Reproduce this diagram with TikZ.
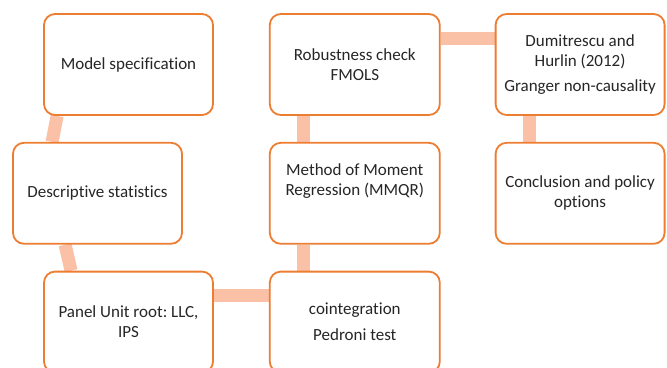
\documentclass[tikz,border=0pt]{standalone}
\usepackage{fontspec}
\setmainfont[Ligatures=NoCommon]{Carlito}
\frenchspacing
\usepackage{xcolor}
\usetikzlibrary{positioning, backgrounds}

\definecolor{boxorange}{HTML}{ED7D31}
\definecolor{linkpeach}{HTML}{FBC1A7}

\begin{document}
\begin{tikzpicture}[x=1pt, y=1pt, node distance=26pt]
    % Node Styles
    \tikzstyle{stage} = [rectangle, draw=boxorange, line width=1.8pt, fill=white, rounded corners=11pt, minimum width=169pt, minimum height=101pt, align=center, text=black!85, font=\fontsize{17}{20}\selectfont]
    \tikzstyle{link} = [draw=linkpeach, line width=13pt]

    \useasboundingbox (0,0) rectangle (667,-367);
    \clip (0,0) rectangle (667,-367);

    % --- TOP ROW ---
    \node [stage] (model) at (128.5,-64.5) {Model specification};
    \node [stage, right=55pt of model, minimum width=170pt] (robust) {Robustness check\\FMOLS};
    \node [stage, right=54pt of robust, minimum width=169pt] (dumi) {Dumitrescu and\\Hurlin (2012)\\[5pt]Granger non-causality};

    % --- MIDDLE ROW ---
    \node [stage, below=26pt of model, xshift=-31pt] (desc) {Descriptive statistics};
    \node [stage, below=26pt of robust, minimum width=170pt] (meth) {Method of Moment\\Regression (MMQR)\\[8pt]\mbox{}};
    \node [stage, below=26pt of dumi, minimum width=169pt] (concl) {Conclusion and policy\\options};

    % --- BOTTOM ROW (cut by the page) ---
    \node [stage, below=26pt of desc, xshift=31pt] (panel) {Panel Unit root: LLC,\\IPS};
    \node [stage, below=26pt of meth, minimum width=170pt] (coint) {cointegration\\[6pt]Pedroni test};

    % --- PATHS ---
    \begin{scope}[on background layer]
        \path [link] ([xshift=14pt]model.south west) -- ([xshift=40pt]desc.north west);
        \path [link] ([xshift=53pt]desc.south west) -- ([xshift=28pt]panel.north west);
        \path [link] ([yshift=-25pt]panel.north east) -- ([yshift=-25pt]coint.north west);
        \path [link] ([xshift=35pt]coint.north west) -- ([xshift=35pt]meth.south west);
        \path [link] ([xshift=35pt]meth.north west) -- ([xshift=35pt]robust.south west);
        \path [link] ([yshift=-25pt]robust.north east) -- ([yshift=-25pt]dumi.north west);
        \path [link] ([xshift=35pt]dumi.south west) -- ([xshift=35pt]concl.north west);
    \end{scope}

\end{tikzpicture}
\end{document}
